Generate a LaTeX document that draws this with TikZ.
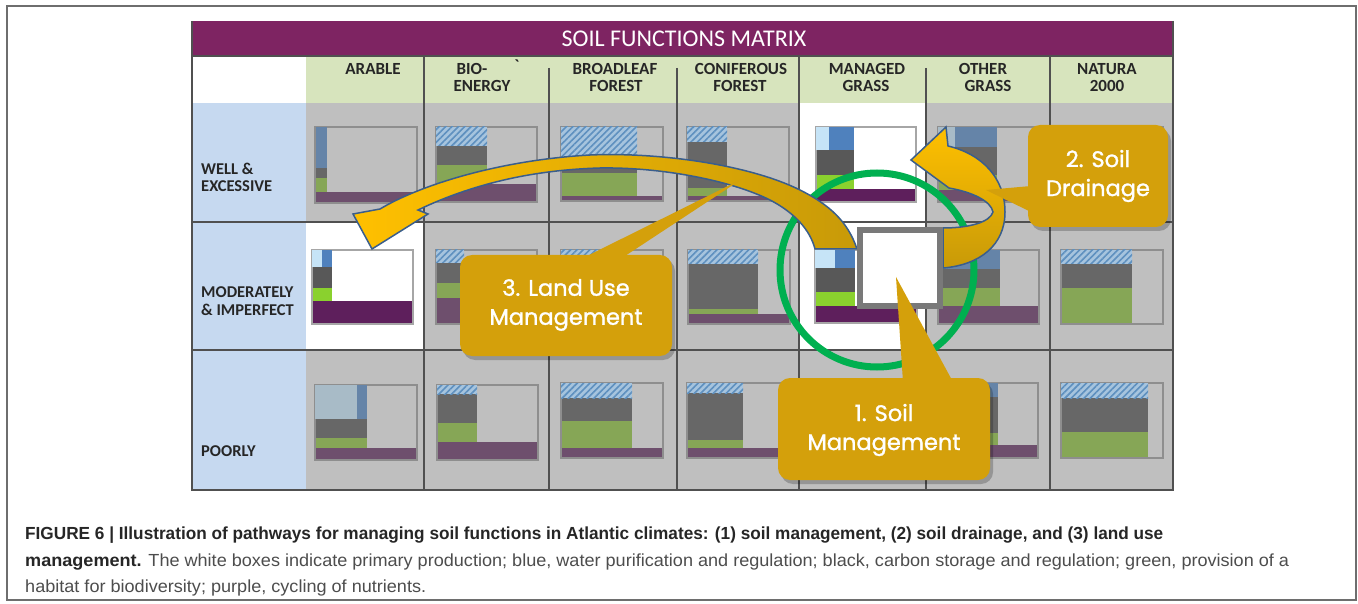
\documentclass[tikz,border=0pt]{standalone}
\usepackage{fontspec}
\usepackage{graphicx}
\setmainfont{Liberation Sans}
\newfontfamily\carlito{Carlito}
\newfontfamily\callfont[FakeBold=1.3]{Poppins}
\usetikzlibrary{patterns.meta}
\definecolor{cellgray}{HTML}{BFBFBF}
\definecolor{hdrgreen}{HTML}{D7E4BD}
\definecolor{rowblue}{HTML}{C6D9F0}
\definecolor{titlepurple}{HTML}{7E2462}
\definecolor{gridcol}{HTML}{505050}
\definecolor{mDG}{HTML}{676767}
\definecolor{mGR}{HTML}{86A656}
\definecolor{mPU}{HTML}{6E4F6D}
\definecolor{mFL}{HTML}{8E8E8E}
\definecolor{mHB}{HTML}{A6C4DE}
\definecolor{mHL}{HTML}{5E90BF}
\definecolor{mBL}{HTML}{6584A8}
\definecolor{mLB}{HTML}{A8BBC7}
\definecolor{wDG}{HTML}{585858}
\definecolor{wGR}{HTML}{8AD12E}
\definecolor{wPU}{HTML}{5E1F5C}
\definecolor{wLB}{HTML}{C6E4F7}
\definecolor{wBL}{HTML}{4F81BD}
\definecolor{wFL}{HTML}{A6A6A6}
\definecolor{goldA}{HTML}{FFC000}
\definecolor{goldB}{HTML}{C89A08}
\definecolor{arrowline}{HTML}{3A5E8C}
\definecolor{callgold}{HTML}{D4A00B}
\definecolor{soilgreen}{HTML}{00B050}
\definecolor{capdark}{HTML}{262626}
\definecolor{capgray}{HTML}{4D4D4D}
\definecolor{framegray}{HTML}{6E6E6E}
\definecolor{hdrtext}{HTML}{262626}
\newcommand\captwotext{{\color{capdark}\bfseries management.} \color{capgray}The white boxes indicate primary production; blue, water purification and regulation; black, carbon storage and regulation; green, provision of a}
\newlength\captwolen
\tikzset{
  dgc/.style={fill=mDG}, grc/.style={fill=mGR}, puc/.style={fill=mPU},
  frfill/.style={fill=cellgray}, frline/.style={draw=mFL,line width=1.2pt},
  lbc/.style={fill=mLB}, blc/.style={fill=mBL},
  whitepal/.style={dgc/.style={fill=wDG}, grc/.style={fill=wGR}, puc/.style={fill=wPU},
    frfill/.style={fill=white}, frline/.style={draw=wFL,line width=1.2pt},
    lbc/.style={fill=wLB}, blc/.style={fill=wBL}},
  gridl/.style={draw=gridcol,line width=1.4pt},
  hdr/.style={font=\carlito\bfseries\fontsize{17}{17}\selectfont, text=hdrtext, inner sep=0pt, anchor=base},
  rowlab/.style={font=\carlito\bfseries\fontsize{16.5}{16.5}\selectfont, text=hdrtext, inner sep=0pt, anchor=base west},
  calltext/.style={font=\callfont\fontsize{22.5}{29}\selectfont, text=white, align=center, inner sep=0pt},
  callbox/.style={fill=callgold},
  callshadow/.style={fill=black, opacity=0.22},
  goldarrow/.style={draw=arrowline, line width=1.5pt},
  captext/.style={anchor=base west, inner sep=0pt, font=\fontsize{17.5}{20}\selectfont}
}
\newcommand\chartbox[8]{%
  \fill[frfill] (#1,#2) rectangle (#3,#4);
  \fill[dgc] (#1,#6) rectangle (#5,#7);
  \fill[grc] (#1,#7) rectangle (#5,#8);
  \fill[puc] (#1,#8) rectangle (#3,#4);
  \draw[frline] (#1,#2) rectangle (#3,#4);}
\newcommand\hatchrect[4]{%
  \fill[mHB] (#1,#2) rectangle (#3,#4);
  \fill[pattern={Lines[angle=45,distance=4.5pt,line width=1.6pt]}, pattern color=mHL] (#1,#2) rectangle (#3,#4);}
\begin{document}
\settowidth\captwolen{\fontsize{17.5}{20}\selectfont\captwotext}
\pgfmathsetmacro\capfactor{1264/\captwolen}
\begin{tikzpicture}[x=1pt,y=-1pt]
\useasboundingbox (0,0) rectangle (1358,604);
\fill[white] (0,0) rectangle (1358,604);
\draw[framegray, line width=1.5pt] (7,6) rectangle (1356,600);

% matrix backgrounds
\fill[cellgray] (306,103) rectangle (1173,490);
\fill[white] (799,103) rectangle (926,350);
\fill[white] (306,222) rectangle (424,350);
\fill[hdrgreen] (306,56) rectangle (1173,103);
\fill[white] (192,56) rectangle (306,103);
\fill[rowblue] (192,103) rectangle (306,490);
\fill[titlepurple] (192,21) rectangle (1173,56);

% grid
\foreach \x in {424,549,677,799,926,1050} \draw[gridl] (\x,103) -- (\x,490);
\foreach \x in {424,799,1050} \draw[gridl] (\x,56) -- (\x,103);
\foreach \x in {549,677,926} \draw[gridl] (\x,68) -- (\x,103);
\draw[gridl] (192,222) -- (1173,222);
\draw[gridl] (192,350) -- (1173,350);
\draw[gridl] (192,56) rectangle (1173,490);
\draw[gridl] (192,21) -- (192,56);
\draw[gridl] (1173,21) -- (1173,56);

% texts of matrix
\node[font=\carlito\fontsize{24}{24}\selectfont, text=white, inner sep=0pt, anchor=base] (title) at (684,47) {SOIL FUNCTIONS MATRIX};
\node[hdr] (h1) at (373,75) {ARABLE};
\node[hdr] (h2a) at (472,75) {BIO-};
\node[hdr] (h2b) at (482,92) {ENERGY};
\node[hdr] (h2c) at (517,72) {`};
\node[hdr] (h3a) at (615,75) {BROADLEAF};
\node[hdr] (h3b) at (616,92) {FOREST};
\node[hdr] (h4a) at (741,75) {CONIFEROUS};
\node[hdr] (h4b) at (740,92) {FOREST};
\node[hdr] (h5a) at (867,75) {MANAGED};
\node[hdr] (h5b) at (866,92) {GRASS};
\node[hdr] (h6a) at (983,75) {OTHER};
\node[hdr] (h6b) at (988,92) {GRASS};
\node[hdr] (h7a) at (1107,75) {NATURA};
\node[hdr] (h7b) at (1107,92) {2000};
\node[rowlab] (r1a) at (201,175) {WELL \&};
\node[rowlab] (r1b) at (201,192) {EXCESSIVE};
\node[rowlab] (r2a) at (201,298) {MODERATELY};
\node[rowlab] (r2b) at (201,315) {\& IMPERFECT};
\node[rowlab] (r3a) at (201,456) {POORLY};

% row 1 charts
\chartbox{315}{127}{417}{203}{327}{168}{178}{192}
\fill[blc] (316,127) rectangle (327,168);
\chartbox{436}{127}{537}{202}{487}{146}{165}{184}
\hatchrect{436}{127}{487}{146}
\chartbox{561}{127}{663}{201}{637}{159}{173}{196}
\hatchrect{561}{127}{637}{159}
\chartbox{687}{127}{789}{201}{727}{142}{188}{196}
\hatchrect{687}{127}{727}{142}
\begin{scope}[whitepal]
\chartbox{816}{127}{916}{202}{854}{150}{175}{189}
\fill[lbc] (816,127) rectangle (829,150);
\fill[blc] (829,127) rectangle (854,150);
\end{scope}
\chartbox{938}{127}{1040}{202}{997}{147}{175}{190}
\fill[lbc] (938,127) rectangle (955,147);
\fill[blc] (955,127) rectangle (997,147);
\chartbox{1061}{127}{1163}{202}{1132}{142}{166}{202}
\hatchrect{1061}{127}{1132}{142}

% row 2 charts
\begin{scope}[whitepal]
\chartbox{312}{250}{413}{324}{332}{267}{288}{301}
\fill[lbc] (312,250) rectangle (322,267);
\fill[blc] (322,250) rectangle (332,267);
\end{scope}
\chartbox{436}{250}{537}{324}{464}{263}{283}{298}
\hatchrect{436}{250}{464}{263}
\chartbox{561}{250}{663}{324}{600}{263}{283}{300}
\hatchrect{561}{250}{600}{263}
\chartbox{688}{250}{790}{324}{758}{264}{309}{314}
\hatchrect{688}{250}{758}{264}
\begin{scope}[whitepal]
\chartbox{815}{250}{917}{323}{855}{268}{292}{306}
\fill[lbc] (815,250) rectangle (835,268);
\fill[blc] (835,250) rectangle (855,268);
\end{scope}
\chartbox{938}{250}{1039}{324}{1000}{269}{288}{306}
\fill[blc] (938,250) rectangle (1000,269);
\chartbox{1061}{250}{1163}{324}{1132}{264}{288}{324}
\hatchrect{1061}{250}{1132}{264}

% row 3 charts
\chartbox{315}{385}{417}{460}{367}{419}{438}{448}
\fill[lbc] (315,385) rectangle (357,419);
\fill[blc] (357,385) rectangle (367,419);
\chartbox{437}{385}{538}{460}{477}{394}{423}{442}
\hatchrect{437}{385}{477}{394}
\chartbox{561}{383}{663}{458}{632}{398}{421}{448}
\hatchrect{561}{383}{632}{398}
\chartbox{687}{383}{789}{458}{743}{393}{440}{448}
\hatchrect{687}{383}{743}{393}
\chartbox{815}{383}{916}{458}{855}{397}{433}{445}
\hatchrect{815}{383}{855}{397}
\chartbox{937}{383}{1038}{458}{998}{397}{433}{445}
\fill[blc] (937,383) rectangle (998,397);
\chartbox{1061}{383}{1163}{458}{1148}{398}{432}{458}
\hatchrect{1061}{383}{1148}{398}

% green circle
\draw[soilgreen, line width=7pt] (877,270) circle[radius=97pt];

% land use arrow
\path[goldarrow, left color=goldA, right color=goldB]
  (857,249) .. controls (848,222) and (830,205) .. (800,190)
  .. controls (750,165) and (660,152) .. (590,155)
  .. controls (500,160) and (420,185) .. (380,209)
  -- (353,214) -- (372,249) -- (428,214) -- (418,210)
  .. controls (470,185) and (530,170) .. (600,168)
  .. controls (660,167) and (730,180) .. (770,200)
  .. controls (795,213) and (810,230) .. (815,249) -- cycle;

% drainage arrow
\path[goldarrow, top color=goldA, bottom color=goldB]
  (943,268) .. controls (980,265) and (1005,245) .. (1005,212)
  .. controls (1005,178) and (982,154) .. (948,146)
  -- (946,127) -- (911,160) -- (949,188)
  .. controls (972,192) and (991,201) .. (993,212)
  .. controls (990,222) and (970,228) .. (943,228) -- cycle;

% white square
\draw[line width=6pt, draw=gray!95!black, fill=white] (860,230) rectangle (940,306);

% callout 1
\fill[callshadow, rounded corners=12pt] (781,382) rectangle (993,484);
\fill[callbox, rounded corners=12pt] (778,378) rectangle (990,480);
\fill[callbox] (903,382) -- (896,277) -- (953,382) -- cycle;
\node[calltext] (c1) at (884,430) {1. Soil\\Management};

% callout 2
\fill[callshadow, rounded corners=12pt] (1031,129) rectangle (1171,231);
\fill[callbox, rounded corners=12pt] (1028,125) rectangle (1168,227);
\fill[callbox] (1031,186) -- (986,190) -- (1031,212) -- cycle;
\node[calltext] (c2) at (1098,176) {2. Soil\\Drainage};

% callout 3
\fill[callshadow, rounded corners=12pt] (463,259) rectangle (675,360);
\fill[callbox, rounded corners=12pt] (460,255) rectangle (672,356);
\fill[callbox] (583,258) -- (742,179) -- (622,258) -- cycle;
\node[calltext] (c3) at (566,305) {3. Land Use\\Management};

% caption
\node[captext] (cap1) at (25,539)
  {\resizebox{1138pt}{\height}{\color{capdark}\bfseries FIGURE 6 | Illustration of pathways for managing soil functions in Atlantic climates: (1) soil management, (2) soil drainage, and (3) land use}};
\node[captext] (cap2) at (25,566)
  {\resizebox{1264pt}{\height}{\captwotext}};
\node[captext] (cap3) at (25,592)
  {\scalebox{\capfactor}[1]{\color{capgray}habitat for biodiversity; purple, cycling of nutrients.}};
\end{tikzpicture}
\end{document}
